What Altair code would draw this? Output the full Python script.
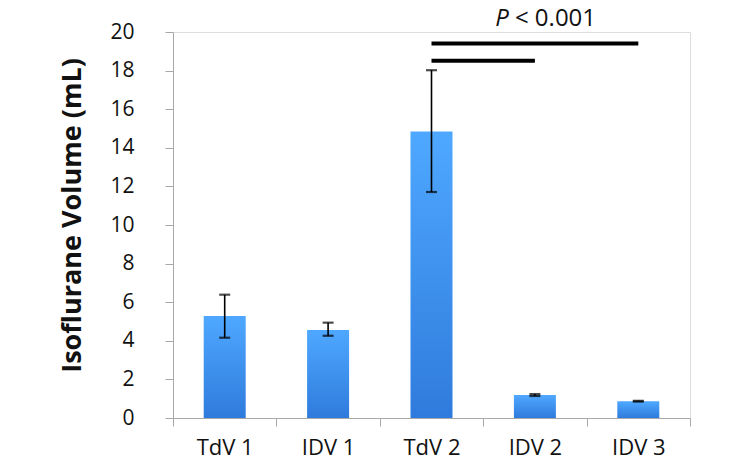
import altair as alt
import pandas as pd

categories = ["TdV 1", "IDV 1", "TdV 2", "IDV 2", "IDV 3"]
means = [5.28, 4.56, 14.85, 1.19, 0.87]
err_hi = [6.39, 4.94, 18.02, 1.24, 0.89]
err_lo = [4.16, 4.26, 11.71, 1.14, 0.85]

bracket_start = ["TdV 2", "TdV 2"]
bracket_end = ["IDV 3", "IDV 2"]
bracket_y = [19.41, 18.51]

p_label_cat = ["IDV 2"]
p_label_y = [20.66]
y_ticks = [0, 2, 4, 6, 8, 10, 12, 14, 16, 18, 20]

df = pd.DataFrame({"cat": categories, "mean": means, "hi": err_hi, "lo": err_lo})
br = pd.DataFrame({"x": bracket_start, "x2": bracket_end, "y": bracket_y})
lab = pd.DataFrame({"x": p_label_cat, "y": p_label_y})

FONT = "Open Sans"

xscale = alt.Scale(domain=categories, paddingInner=0, paddingOuter=0)
yscale = alt.Scale(domain=[0, 20], nice=False)

x_axis = alt.Axis(title=None, labelAngle=0, labelFont=FONT, labelFontSize=22,
                  labelColor="#111", tickBand="extent", tickSize=8,
                  tickColor="#a8a8a8", domainColor="#a8a8a8", labelPadding=11,
                  grid=False, labelOverlap=False)
y_axis = alt.Axis(title="Isoflurane Volume (mL)", values=y_ticks,
                  labelFont=FONT, labelFontSize=21, labelColor="#111",
                  labelPadding=31, tickSize=8, tickColor="#a8a8a8",
                  domainColor="#a8a8a8", grid=False, labelOverlap=False,
                  titleFont=FONT, titleFontSize=27, titleFontWeight="bold",
                  titleColor="#111", titleX=-101, titleY=183,
                  titleAngle=270, titleAlign="center", titleBaseline="middle")


def X(field):
    return alt.X(field, sort=categories, scale=xscale, axis=x_axis)


def Y(field):
    return alt.Y(field, scale=yscale, axis=y_axis)


gradient = alt.LinearGradient(
    gradient="linear", x1=0, y1=0, x2=0, y2=1,
    stops=[alt.GradientStop(color="#4fa8ff", offset=0),
           alt.GradientStop(color="#2f7bdd", offset=1)])

bars = alt.Chart(df).mark_bar(size=42, color=gradient).encode(x=X("cat:N"), y=Y("mean:Q"))

err = alt.Chart(df).mark_rule(color="black", strokeWidth=1.6).encode(
    x=X("cat:N"), y=Y("lo:Q"), y2="hi:Q")
cap_hi = alt.Chart(df).mark_tick(color="black", size=11, thickness=2.2).encode(
    x=X("cat:N"), y=Y("hi:Q"))
cap_lo = alt.Chart(df).mark_tick(color="black", size=11, thickness=2.2).encode(
    x=X("cat:N"), y=Y("lo:Q"))

brackets = alt.Chart(br).mark_rule(color="black", strokeWidth=4, strokeCap="butt").encode(
    x=X("x:N"), x2="x2:N", y=Y("y:Q"))

p_text = alt.Chart(lab).mark_text(text="P", font=FONT, fontSize=24, fontStyle="italic",
                                  align="right", baseline="middle", dx=-26, color="#111").encode(
    x=X("x:N"), y=Y("y:Q"))
rest_text = alt.Chart(lab).mark_text(text="< 0.001", font=FONT, fontSize=24,
                                     align="left", baseline="middle", dx=-20, color="#111").encode(
    x=X("x:N"), y=Y("y:Q"))

chart = alt.layer(bars, err, cap_hi, cap_lo, brackets, p_text, rest_text).properties(
    width=517, height=386,
    autosize=alt.AutoSizeParams(type="none"),
    padding={"left": 165, "top": 24, "right": 40, "bottom": 43},
).configure_view(stroke=None).configure(background="white")

chart.save("out.html", embed_options={"renderer": "svg", "actions": False})
